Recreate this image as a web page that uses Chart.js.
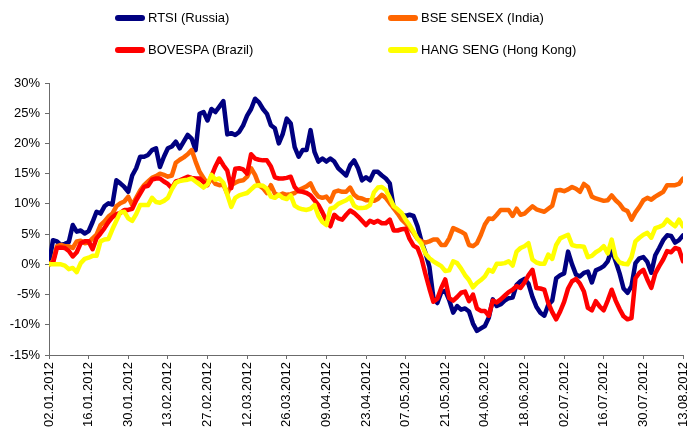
<!DOCTYPE html>
<html>
<head>
<meta charset="utf-8">
<script src="https://cdn.jsdelivr.net/npm/chart.js@4.4.0/dist/chart.umd.min.js"></script>
<style>
    body { margin: 0; background: #fff; }
    #wrap { position: relative; width: 689px; height: 435px; }
    .legenda { position: absolute; font: 13px Arial, "Liberation Sans", sans-serif; color: #000; line-height: 16px; white-space: nowrap; }
    .legenda span { display: inline-block; width: 30px; height: 6px; border-radius: 3px; vertical-align: middle; margin-right: 3px; position: relative; top: -1px; }
</style>
</head>
<body>
<div id="wrap">
    <canvas id="myChart" width="689" height="435"></canvas>
</div>
<script>
// tick labels on the date axis, one every 10 trading days
var tickLabels = ['02.01.2012', '16.01.2012', '30.01.2012', '13.02.2012', '27.02.2012', '12.03.2012',
    '26.03.2012', '09.04.2012', '23.04.2012', '07.05.2012', '21.05.2012', '04.06.2012',
    '18.06.2012', '02.07.2012', '16.07.2012', '30.07.2012', '13.08.2012'];

var seriesNames = ['RTSI (Russia)', 'BSE SENSEX (India)', 'BOVESPA (Brazil)', 'HANG SENG (Hong Kong)'];
var seriesColors = ['#000080', '#FF6600', '#FF0000', '#FFFF00'];

// % change since 02.01.2012, one value per trading day
var rtsi = [
    0, 4.0, 3.8, 3.2, 3.4, 3.7, 6.5, 5.4, 5.6, 5.1,
    5.5, 7.0, 8.7, 8.4, 9.6, 10.1, 9.9, 13.9, 13.4, 12.8,
    12.0, 14.7, 15.9, 17.8, 17.8, 18.1, 18.9, 19.2, 16.1, 17.8,
    19.2, 19.5, 20.3, 19.2, 20.3, 21.4, 20.8, 18.9, 24.9, 25.2,
    23.8, 25.7, 25.2, 26.1, 27.0, 21.5, 21.7, 21.4, 21.9, 23.0,
    24.6, 25.7, 27.4, 26.8, 25.7, 24.9, 23.0, 22.5, 20.0, 21.6,
    24.1, 23.3, 19.4, 17.8, 18.9, 18.9, 22.2, 18.6, 17.0, 17.5,
    17.0, 17.5, 17.0, 15.9, 15.3, 14.7, 16.4, 17.2, 15.9, 13.9,
    14.4, 13.9, 15.3, 15.3, 14.7, 14.2, 13.4, 9.3, 8.7, 8.2,
    8.0, 8.2, 8.0, 6.3, 3.8, 1.9, -0.4, -5.5, -6.4, -4.6,
    -4.4, -5.9, -8.0, -6.9, -7.5, -7.3, -7.8, -9.8, -11.0, -10.6,
    -10.2, -8.8, -5.8, -6.9, -6.6, -6.0, -5.6, -5.5, -3.4, -2.8,
    -2.4, -3.2, -5.4, -7.0, -8.0, -8.5, -6.7, -6.0, -2.3, -1.8,
    -1.5, 2.1, 0.0, -1.7, -2.0, -1.4, -1.2, -3.0, -1.0, -0.7,
    -0.3, 0.5, 2.4, 0.5, -1.5, -4.0, -4.7, -3.6, 0.2, 1.0,
    1.2, 0.4, -1.4, 1.5, 2.7, 4.0, 4.8, 4.7, 3.6, 4.0, 4.8
];

var sensex = [
    0, 0.5, 3.0, 3.2, 3.0, 3.0, 2.7, 3.8, 3.9, 3.5,
    3.6, 4.3, 4.9, 6.5, 7.1, 7.9, 8.4, 9.6, 10.1, 10.4,
    11.2, 9.8, 11.0, 12.2, 13.1, 13.7, 14.3, 14.6, 15.0, 14.8,
    14.5, 14.7, 16.8, 17.3, 17.7, 18.2, 18.9, 17.0, 15.3, 14.3,
    13.3, 14.2, 13.3, 13.1, 13.2, 11.7, 13.1, 13.5, 13.8, 13.9,
    14.5, 15.9, 14.8, 13.1, 12.6, 11.8, 13.1, 11.7, 11.4, 11.7,
    11.5, 11.6, 11.8, 12.3, 12.6, 12.9, 13.4, 12.0, 11.2, 11.0,
    11.2, 10.4, 12.0, 12.2, 12.0, 12.0, 12.7, 11.5, 11.0, 10.9,
    10.6, 10.6, 10.5, 10.8, 11.5, 11.0, 10.1, 9.3, 8.4, 7.4,
    6.8, 6.0, 5.2, 4.2, 3.8, 3.6, 3.8, 4.1, 4.1, 3.2,
    3.2, 4.3, 6.0, 5.7, 5.4, 5.0, 3.2, 3.0, 3.5, 4.9,
    6.6, 7.6, 7.5, 8.2, 9.0, 9.0, 9.0, 8.0, 9.2, 8.2,
    8.4, 9.0, 9.6, 9.1, 8.9, 8.7, 9.2, 9.7, 12.2, 12.3,
    12.1, 12.4, 12.8, 12.5, 12.0, 13.3, 12.8, 11.2, 10.9, 10.7,
    10.5, 10.6, 11.4, 10.6, 10.0, 9.1, 8.8, 7.4, 8.6, 9.5,
    10.6, 11.0, 10.7, 11.2, 11.6, 12.0, 13.1, 13.1, 13.1, 13.3, 14.2
];

var bovespa = [
    0, 0.2, 2.7, 2.8, 2.7, 2.2, 1.3, 2.0, 3.5, 3.8,
    3.8, 2.5, 4.3, 5.1, 6.0, 7.0, 7.8, 8.3, 8.5, 9.0,
    9.0, 9.2, 10.6, 11.7, 12.8, 13.0, 14.0, 14.2, 14.2, 13.7,
    13.3, 12.6, 13.7, 13.9, 14.2, 14.5, 14.3, 14.2, 14.2, 13.6,
    13.1, 14.6, 16.2, 17.5, 16.4, 15.5, 12.6, 15.8, 15.9, 15.7,
    15.0, 18.2, 17.5, 17.3, 17.2, 17.2, 16.2, 14.4, 14.2, 14.2,
    14.3, 14.5, 12.8, 12.1, 12.0, 11.8, 11.4, 10.6, 9.8, 8.6,
    7.2, 6.3, 8.2, 7.6, 7.4, 8.2, 8.9, 8.5, 7.9, 7.2,
    6.5, 7.2, 6.9, 7.2, 6.8, 6.8, 7.4, 5.6, 5.6, 5.8,
    5.9, 4.2, 3.1, 2.7, 1.0, -1.6, -4.0, -6.2, -5.7, -3.9,
    -2.5, -5.6, -6.0, -5.4, -4.7, -4.5, -6.1, -5.0, -7.3, -7.7,
    -7.7, -8.5, -6.0, -6.3, -5.8, -5.2, -4.6, -4.2, -3.6, -3.9,
    -3.0, -1.8, -0.9, -3.9, -4.0, -4.2, -6.4, -7.9, -9.1, -7.8,
    -6.2, -4.0, -2.8, -2.4, -3.2, -4.5, -7.2, -7.6, -6.1, -7.0,
    -7.6, -6.0, -4.2, -6.0, -7.4, -8.6, -9.1, -8.9, -2.3, -1.4,
    -0.9, -2.5, -3.9, -1.5, -0.3, 0.8, 2.2, 2.0, 2.7, 2.5, 0.5
];

var hangSeng = [
    0, 0, 0, 0, -0.2, -0.8, -0.6, -1.3, 0.2, 0.9,
    1.1, 1.4, 1.4, 3.8, 4.1, 4.2, 5.8, 7.2, 8.6, 8.7,
    7.6, 7.2, 8.3, 9.8, 9.8, 9.8, 11.0, 10.3, 10.2, 10.5,
    11.0, 12.4, 13.5, 13.8, 13.9, 14.0, 14.2, 13.7, 13.2, 12.7,
    13.2, 14.8, 14.0, 14.2, 13.5, 11.5, 9.5, 11.0, 11.4, 11.6,
    11.8, 12.4, 13.0, 13.1, 13.0, 12.5, 11.2, 11.0, 11.5, 11.0,
    10.8, 11.4, 9.7, 9.3, 9.1, 9.0, 9.2, 9.8, 8.0, 7.0,
    6.5, 9.2, 9.4, 10.0, 10.3, 10.6, 11.1, 9.7, 9.3, 9.3,
    9.4, 9.8, 11.9, 12.7, 12.8, 12.3, 11.0, 9.6, 9.1, 8.5,
    7.4, 6.5, 5.4, 4.2, 3.4, 1.8, 1.0, 0.5, 0.1, -0.3,
    -1.1, -1.0, 0.5, 0.2, -0.7, -1.8, -2.6, -3.8, -3.1, -2.6,
    -2.0, -0.9, -1.2, 0.1, 0.1, 0.2, 0.5, -0.2, 2.1, 2.7,
    3.0, 3.5, 0.8, 0.3, 0.1, 0.1, 1.6, 0.9, 3.2, 4.3,
    4.6, 4.9, 3.2, 3.0, 3.0, 2.9, 1.2, 1.4, 2.0, 2.4,
    3.0, 1.8, 4.1, 1.2, 0.3, 0.1, 0.0, 1.2, 3.8, 4.4,
    4.9, 5.2, 4.4, 6.0, 6.2, 6.5, 7.4, 6.8, 6.3, 7.4, 6.3
];

var allSeries = [rtsi, sensex, bovespa, hangSeng];

// legend boxes: left / vertical centre of each entry
var legendPos = [
    { left: 115, mid: 18 }, { left: 388, mid: 18 },
    { left: 115, mid: 50 }, { left: 388, mid: 50 }
];

function toPoints(values) {
    return values.map(function (v, i) { return { x: i, y: v }; });
}

function criarLegenda() {
    var wrap = document.getElementById('wrap');
    seriesNames.forEach(function (nome, i) {
        var div = document.createElement('div');
        div.className = 'legenda';
        div.style.left = legendPos[i].left + 'px';
        div.style.top = (legendPos[i].mid - 8) + 'px';
        var amostra = document.createElement('span');
        amostra.style.background = seriesColors[i];
        div.appendChild(amostra);
        div.appendChild(document.createTextNode(nome));
        wrap.appendChild(div);
    });
}

function criarGrafico() {
    var axisColor = '#6b6b6b';
    var fonte = { family: 'Arial, "Liberation Sans", sans-serif', size: 13 };

    var datasets = allSeries.map(function (serie, i) {
        return {
            label: seriesNames[i],
            data: toPoints(serie),
            borderColor: seriesColors[i],
            borderWidth: 4.5,
            pointRadius: 0,
            tension: 0,
            fill: false,
            borderJoinStyle: 'round',
            borderCapStyle: 'round',
            order: [4, 3, 2, 1][i]
        };
    });

    var ctx = document.getElementById('myChart').getContext('2d');
    new Chart(ctx, {
        type: 'line',
        data: { datasets: datasets },
        options: {
            responsive: false,
            animation: false,
            layout: { padding: { top: 83, right: 6, left: 0, bottom: 0 } },
            plugins: {
                legend: { display: false },
                tooltip: { enabled: false }
            },
            scales: {
                x: {
                    type: 'linear',
                    min: 0,
                    max: 160,
                    afterFit: function (scale) {
                        // keep the plot edge fixed, the rotated end labels may overhang
                        scale.height = 80;
                        scale.paddingLeft = 0;
                        scale.paddingRight = 0;
                    },
                    border: { color: axisColor, width: 1 },
                    grid: { drawOnChartArea: false, drawTicks: true, tickLength: 4, color: axisColor },
                    ticks: {
                        stepSize: 10,
                        autoSkip: false,
                        minRotation: 90,
                        maxRotation: 90,
                        padding: 3,
                        color: '#000',
                        font: fonte,
                        callback: function (value) { return tickLabels[value / 10]; }
                    }
                },
                y: {
                    min: -15,
                    max: 30,
                    afterFit: function (scale) { scale.width = 49; },
                    border: { color: axisColor, width: 1 },
                    grid: { drawOnChartArea: false, drawTicks: true, tickLength: 4, color: axisColor },
                    ticks: {
                        stepSize: 5,
                        padding: 5,
                        color: '#000',
                        font: fonte,
                        callback: function (value) { return value + '%'; }
                    }
                }
            }
        }
    });
}

criarLegenda();
criarGrafico();
</script>
</body>
</html>
